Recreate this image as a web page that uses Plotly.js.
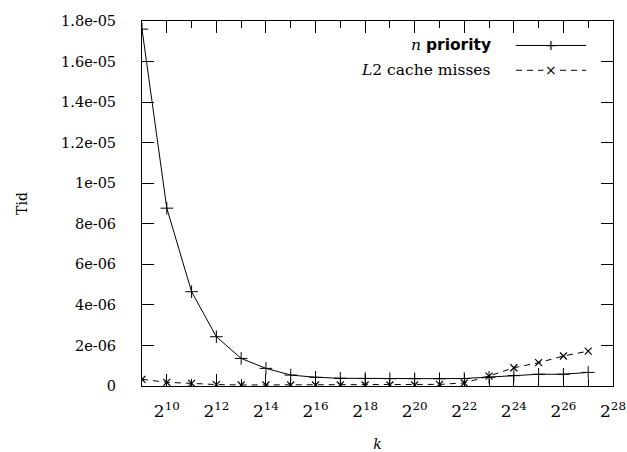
<!DOCTYPE html>
<html>
<head>
<meta charset="utf-8">
<script src="https://cdn.plot.ly/plotly-3.0.1.min.js"></script>
<style>html,body{margin:0;padding:0;background:#fff;} #chart{width:627px;height:452px;}</style>
</head>
<body>
<div id="chart"></div>
<script>
// Data (x = k as powers of two)
const exponents = [9,10,11,12,13,14,15,16,17,18,19,20,21,22,23,24,25,26,27];
const nPriority = [17.6e-6, 8.77e-6, 4.65e-6, 2.43e-6, 1.36e-6, 0.87e-6, 0.54e-6, 0.43e-6, 0.38e-6, 0.37e-6, 0.36e-6, 0.36e-6, 0.36e-6, 0.37e-6, 0.43e-6, 0.51e-6, 0.58e-6, 0.58e-6, 0.67e-6];
const l2Misses = [0.33e-6, 0.18e-6, 0.13e-6, 0.07e-6, 0.05e-6, 0.05e-6, 0.05e-6, 0.05e-6, 0.05e-6, 0.05e-6, 0.05e-6, 0.05e-6, 0.08e-6, 0.15e-6, 0.49e-6, 0.90e-6, 1.15e-6, 1.48e-6, 1.72e-6];
const xTickExps = [10,12,14,16,18,20,22,24,26,28];
const xMinorExps = [9,11,13,15,17,19,21,23,25,27];
const yTickVals = [0,2e-6,4e-6,6e-6,8e-6,1e-5,1.2e-5,1.4e-5,1.6e-5,1.8e-5];
const yTickText = ["0","2e-06","4e-06","6e-06","8e-06","1e-05","1.2e-05","1.4e-05","1.6e-05","1.8e-05"];
const seriesNames = ["<i>n</i> <b style=\"font-family:'DejaVu Sans'\">priority</b>", "<i>L</i>2 cache misses"];

const xs = exponents.map(e => Math.pow(2, e));
const serif = "'DejaVu Serif', serif";

const traces = [
  {x: xs, y: nPriority, type: 'scatter', mode: 'lines+markers',
   line: {color: '#000', width: 1},
   marker: {symbol: 'cross-thin', size: 9, line: {color: '#000', width: 1}},
   showlegend: false},
  {x: xs, y: l2Misses, type: 'scatter', mode: 'lines+markers',
   line: {color: '#000', width: 1, dash: '6px,5px'},
   marker: {symbol: 'x-thin', size: 7, line: {color: '#000', width: 1.2}},
   showlegend: false}
];

const legendY = [0.933, 0.865];
const layout = {
  width: 627, height: 452,
  margin: {l: 142, r: 14, t: 20.5, b: 66},
  paper_bgcolor: '#fff', plot_bgcolor: '#fff',
  font: {family: serif, color: '#000', size: 14},
  showlegend: false,
  xaxis: {
    type: 'log',
    range: [9*Math.log10(2), 28*Math.log10(2)],
    tickvals: xTickExps.map(e => Math.pow(2, e)),
    ticktext: xTickExps.map(e => '2<sup>' + e + '</sup>'),
    ticks: 'inside', ticklen: 12, tickwidth: 1, tickcolor: '#000',
    minor: {tickvals: xMinorExps.map(e => Math.pow(2, e)), ticks: 'inside', ticklen: 7, tickwidth: 1, tickcolor: '#000', showgrid: false},
    showline: true, linecolor: '#000', linewidth: 1, mirror: 'ticks',
    showgrid: false, zeroline: false,
    ticklabelstandoff: 10,
    tickfont: {family: serif, size: 17},
    title: {text: '<i>k</i>', font: {family: serif, size: 14}, standoff: 30}
  },
  yaxis: {
    range: [0, 1.8e-5],
    tickvals: yTickVals, ticktext: yTickText,
    ticks: 'inside', ticklen: 12, tickwidth: 1, tickcolor: '#000',
    showline: true, linecolor: '#000', linewidth: 1, mirror: 'ticks',
    showgrid: false, zeroline: false,
    ticklabelstandoff: 22,
    tickfont: {family: serif, size: 14.5},
    title: {text: 'Tid', font: {family: serif, size: 14}, standoff: 30}
  },
  shapes: [
    {type: 'line', xref: 'paper', yref: 'paper', x0: 0.794, x1: 0.943, y0: legendY[0], y1: legendY[0], line: {color: '#000', width: 1}},
    {type: 'line', xref: 'paper', yref: 'paper', x0: 0.794, x1: 0.943, y0: legendY[1], y1: legendY[1], line: {color: '#000', width: 1, dash: '6px,5px'}}
  ],
  annotations: [
    {xref: 'paper', yref: 'paper', x: 0.745, y: legendY[0], xanchor: 'right', yanchor: 'middle', text: seriesNames[0], showarrow: false, font: {family: serif, size: 15.5}},
    {xref: 'paper', yref: 'paper', x: 0.745, y: legendY[1], xanchor: 'right', yanchor: 'middle', text: seriesNames[1], showarrow: false, font: {family: serif, size: 15.5}},
    {xref: 'paper', yref: 'paper', x: 0.868, y: legendY[0], xanchor: 'center', yanchor: 'middle', text: '+', showarrow: false, font: {family: 'DejaVu Sans', size: 14}},
    {xref: 'paper', yref: 'paper', x: 0.868, y: legendY[1], xanchor: 'center', yanchor: 'middle', text: '×', showarrow: false, font: {family: 'DejaVu Sans', size: 14}, bgcolor: '#fff'}
  ]
};

Plotly.newPlot('chart', traces, layout, {displayModeBar: false, staticPlot: true});
</script>
</body>
</html>
